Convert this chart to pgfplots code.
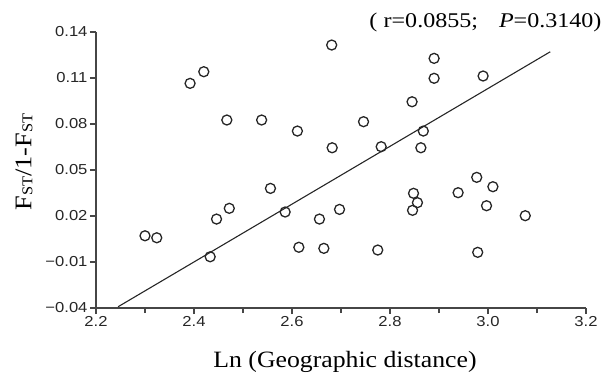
\documentclass[border=0pt]{standalone}
\usepackage{fontspec}
\setmainfont{Liberation Serif}
\newfontfamily\labelfont[FakeStretch=1.1]{Liberation Serif}
\newfontfamily\titlefont[FakeStretch=1.15]{Liberation Serif}
\newfontfamily\tickfont[FakeStretch=1.15]{Liberation Sans}
\usepackage{pgfplots}
\pgfplotsset{compat=1.18}
\definecolor{axgray}{RGB}{70,70,70}
\begin{document}
\begin{tikzpicture}
\useasboundingbox (0,0) rectangle (609bp,382bp);
\begin{axis}[
  name=ax,
  at={(96bp,74bp)}, anchor=south west,
  scale only axis, width=490bp, height=276bp,
  xmin=2.2, xmax=3.2, ymin=-0.04, ymax=0.14,
  axis lines=left, axis line style={-, line width=1.2bp, draw=axgray},
  clip=false,
  xtick={2.2,2.4,2.6,2.8,3.0,3.2},
  xticklabels={2.2,2.4,2.6,2.8,3.0,3.2},
  minor xtick={2.3,2.5,2.7,2.9,3.1},
  ytick={-0.04,-0.01,0.02,0.05,0.08,0.11,0.14},
  yticklabels={−0.04,−0.01,0.02,0.05,0.08,0.11,0.14},
  tick align=outside,
  major tick length=6bp, minor tick length=5bp,
  every tick/.style={line width=1.1bp, draw=axgray},
  ticklabel style={font=\tickfont\fontsize{14.5}{14.5}\selectfont, text=black!85},
  xticklabel style={yshift=1bp},
  yticklabel style={xshift=1bp},
  xlabel={\labelfont\fontsize{23.5}{26}\selectfont Ln (Geographic distance)},
  x label style={at={(axis description cs:0.5,0)}, anchor=base, yshift=-59bp, xshift=4bp},
]
\addplot[only marks, mark=o, mark size=5bp, mark options={line width=1.3bp, draw=black!85}] coordinates {
(2.300,0.0071) (2.324,0.0058) (2.392,0.1065) (2.420,0.1141) (2.467,0.0826)
(2.538,0.0826) (2.611,0.0754) (2.556,0.0380) (2.472,0.0250) (2.446,0.0180)
(2.433,-0.0066) (2.586,0.0226) (2.614,-0.0004)
(2.681,0.1315) (2.890,0.1228) (2.890,0.1098) (2.990,0.1113) (2.845,0.0945)
(2.746,0.0815) (2.868,0.0754) (2.682,0.0645) (2.782,0.0652) (2.863,0.0645)
(2.977,0.0452) (3.010,0.0391) (2.939,0.0352) (2.848,0.0348) (2.856,0.0287)
(2.846,0.0237) (2.997,0.0267) (3.076,0.0202) (2.697,0.0243) (2.656,0.0180)
(2.665,-0.0011) (2.775,-0.0022) (2.979,-0.0037)
};
\addplot[black!85, line width=1.1bp] coordinates {(2.245,-0.0392) (3.127,0.1271)};
\node[anchor=base east, font=\titlefont\fontsize{21}{23}\selectfont] at (rel axis cs:1,1) [xshift=19bp, yshift=4bp] {(\hspace{0.3em}r=0.0855;\hspace{1em}\textit{P}=0.3140)};
\end{axis}
\node[rotate=90, anchor=center, font=\labelfont\fontsize{24}{26}\selectfont] at ([xshift=-72bp,yshift=8bp]ax.west) {F{\fontsize{15}{15}\selectfont\raisebox{-1bp}{ST}}/1-F{\fontsize{15}{15}\selectfont\raisebox{-1bp}{ST}}};
\end{tikzpicture}
\end{document}
